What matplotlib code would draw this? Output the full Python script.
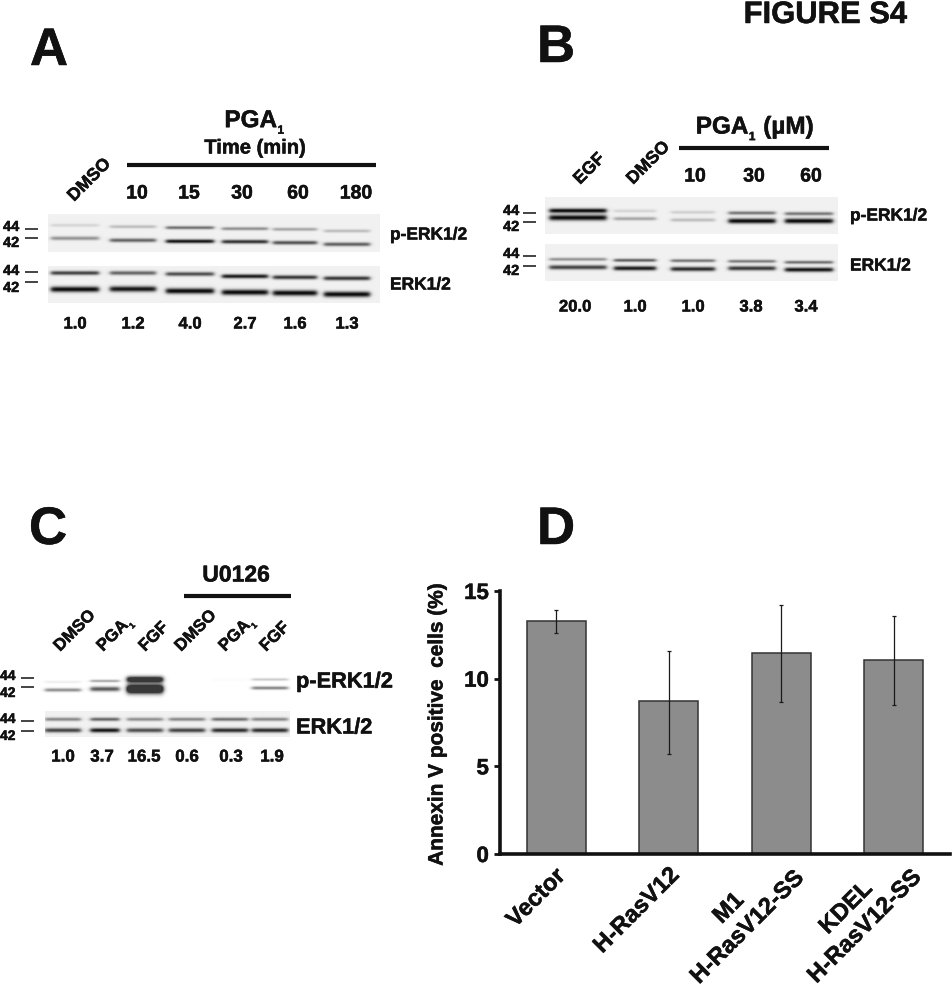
import numpy as np
import matplotlib
matplotlib.use("Agg")
import matplotlib.pyplot as plt
import matplotlib.patheffects as pe
from matplotlib.transforms import ScaledTranslation

plt.rcParams['font.family'] = ['Liberation Sans', 'DejaVu Sans']
plt.rcParams['font.weight'] = 'bold'
plt.rcParams['mathtext.fontset'] = 'custom'
plt.rcParams['mathtext.rm'] = 'Liberation Sans'
plt.rcParams['mathtext.default'] = 'rm'

PGA = r'PGA$_{_{1}}$'

# Panel D
categories = ['Vector', 'H-RasV12', 'M1\nH-RasV12-SS', 'KDEL\nH-RasV12-SS']
annexin_mean = [13.3, 8.7, 11.45, 11.05]
annexin_low = [12.6, 5.7, 8.65, 8.5]
annexin_high = [13.9, 11.6, 14.2, 13.6]
annexin_ticks = [0, 5, 10, 15]

# Panel A
a_lanes = ['DMSO', '10', '15', '30', '60', '180']
a_ratio = ['1.0', '1.2', '4.0', '2.7', '1.6', '1.3']
a_p44 = [0.12, 0.22, 0.55, 0.42, 0.32, 0.22]
a_p42 = [0.40, 0.60, 0.95, 0.82, 0.68, 0.62]
a_t44 = [0.75, 0.60, 0.70, 0.92, 0.80, 0.80]
a_t42 = [1.00, 0.95, 1.00, 1.00, 1.00, 1.00]

# Panel B
b_lanes = ['EGF', 'DMSO', '10', '30', '60']
b_ratio = ['20.0', '1.0', '1.0', '3.8', '3.4']
b_p44 = [1.00, 0.12, 0.14, 0.52, 0.52]
b_p42 = [1.00, 0.32, 0.22, 1.00, 1.00]
b_t44 = [0.40, 0.62, 0.52, 0.50, 0.55]
b_t42 = [0.75, 0.92, 0.85, 0.80, 0.95]

# Panel C
c_lanes = ['DMSO', PGA, 'FGF', 'DMSO', PGA, 'FGF']
c_ratio = ['1.0', '3.7', '16.5', '0.6', '0.3', '1.9']
c_p44 = [0.08, 0.42, 1.40, 0.00, 0.02, 0.25]
c_p42 = [0.55, 0.82, 1.80, 0.00, 0.00, 0.60]
c_t44 = [0.45, 0.60, 0.42, 0.45, 0.55, 0.45]
c_t42 = [0.75, 0.95, 0.70, 0.75, 0.85, 0.85]

fig = plt.figure(figsize=(9.52, 9.88), dpi=100)
ov = fig.add_axes([0, 0, 1, 1])
ov.set_xlim(0, 952)
ov.set_ylim(988, 0)
ov.axis('off')

heavy = [pe.withStroke(linewidth=0.35, foreground='#111111')]


def blot(x0, x1, y0, y1, centers, widths, ys, amps, sigmas, bg=0.945, floor=0.05):
    """Paint a grey blot strip: one row of bands per entry of ys/amps."""
    xx, yy = np.meshgrid(np.arange(x0, x1) + .5, np.arange(y0, y1) + .5)
    img = np.full(xx.shape, 0.0)
    for row_y, row_a, row_s in zip(ys, amps, sigmas):
        for c, w, by, a, s in zip(centers, widths, row_y, row_a, row_s):
            win = 0.5 * (np.tanh((xx - c + w / 2) / 2.5) - np.tanh((xx - c - w / 2) / 2.5))
            img += a * win * np.exp(-0.5 * ((yy - by) / s) ** 2)
    img = np.clip(bg - img * (bg - floor), floor, 1)
    ov.imshow(img, extent=(x0, x1, y1, y0), cmap='gray', vmin=0, vmax=1,
              interpolation='bilinear', aspect='auto', zorder=1)


def txt(x, y, s, size, **kw):
    kw.setdefault('ha', 'center')
    kw.setdefault('va', 'center')
    ov.text(x, y, s, fontsize=size, fontweight='bold', color='#111111', zorder=3,
            path_effects=heavy, **kw)


def rot(x, y, s, size):
    ov.text(x, y, s, fontsize=size, fontweight='bold', color='#111111', rotation=45,
            rotation_mode='anchor', ha='left', va='baseline', zorder=3, path_effects=heavy)


def rule(x0, x1, y, lw=3.0):
    ov.plot([x0, x1], [y, y], color='#111111', lw=lw, solid_capstyle='butt', zorder=3)


def marks(x0, x1, ys):
    for y in ys:
        ov.plot([x0, x1], [y, y], color='#111111', lw=1.1, solid_capstyle='butt', zorder=3)


# Titles and panel letters
txt(825.5, 23, 'FIGURE S4', 22.3, va='baseline')
for x, y, s in [(49, 51, 'A'), (556, 48, 'B'), (48, 530, 'C'), (556, 530, 'D')]:
    txt(x, y, s, 38)

# ---- Panel A
ca = [75, 133, 190, 245, 295, 347]
wa = [48, 46, 48, 46, 44, 46]
blot(48, 380, 214, 252, ca, wa,
     [[225.3, 226.7, 227.7, 228.7, 229.3, 231], [238.3, 240.3, 241.3, 241.7, 242.7, 244.3]],
     [a_p44, a_p42], [[1.2] * 6, [1.4] * 6])
blot(48, 380, 266, 303, ca, wa,
     [[273, 273, 274, 276.3, 277.3, 278.3], [289.3, 289, 291, 292.3, 293, 294.3]],
     [a_t44, a_t42], [[1.5] * 6, [2.0] * 6])
txt(255, 122, PGA, 17.5)
txt(255, 148, 'Time (min)', 14.5)
rule(127, 376, 165)
rot(74, 202, a_lanes[0], 12.7)
for c, s in zip([137, 189, 242, 298, 356], a_lanes[1:]):
    txt(c, 194, s, 14)
for c, s in zip(ca, a_ratio):
    txt(c, 324, s, 12)
txt(3, 227, '44', 10.5, ha='left'); txt(3, 243, '42', 10.5, ha='left')
txt(3, 271, '44', 10.5, ha='left'); txt(3, 288, '42', 10.5, ha='left')
marks(25, 38, [229, 238, 272, 282])
txt(390, 235, 'p-ERK1/2', 12.5, ha='left')
txt(390, 285, 'ERK1/2', 12.5, ha='left')

# ---- Panel B
cb = [578, 635, 693, 752, 809]
wb = [57, 42, 44, 47, 48]
blot(545, 838, 197, 234, cb, wb,
     [[210.7, 211, 212.3, 213, 213.7], [217.7, 218.7, 220, 221, 221]],
     [b_p44, b_p42], [[1.6, 1.2, 1.2, 1.3, 1.3], [2.0, 1.3, 1.3, 1.8, 1.8]])
blot(545, 838, 244, 281, cb, wb,
     [[259.3, 260.3, 260.7, 261.3, 262.3], [267.3, 268.3, 269, 268.3, 269.7]],
     [b_t44, b_t42], [[1.2] * 5, [1.6] * 5])
txt(755, 128, PGA + ' (µM)', 17.5)
rule(679, 829, 148)
rot(580, 185, b_lanes[0], 12.7)
rot(633, 185, b_lanes[1], 12.7)
for c, s in zip([695, 754, 811], b_lanes[2:]):
    txt(c, 177, s, 14)
for c, s in zip([575, 635, 693, 751, 806], b_ratio):
    txt(c, 307, s, 12)
txt(503, 211, '44', 10.5, ha='left'); txt(503, 227, '42', 10.5, ha='left')
txt(503, 254, '44', 10.5, ha='left'); txt(503, 271, '42', 10.5, ha='left')
marks(523, 536, [213, 222, 256, 266])
txt(850, 216, 'p-ERK1/2', 12.5, ha='left')
txt(850, 266, 'ERK1/2', 12.5, ha='left')

# ---- Panel C
cc = [63, 105, 145, 187, 230, 270]
wc = [36, 29, 36, 36, 36, 36]
blot(40, 292, 670, 700, cc, wc,
     [[682, 681, 679.5, 680, 680, 679.5], [690, 689, 689, 689, 689, 688]],
     [c_p44, c_p42], [[1.0, 1.0, 2.2, 1, 1, 1.0], [1.3, 1.7, 3.2, 1, 1, 1.2]],
     bg=1.0, floor=0.22)
blot(45, 290, 711, 737, cc, wc,
     [[719.3] * 6, [730.3] * 6],
     [c_t44, c_t42], [[1.3] * 6, [1.6] * 6])
txt(236, 575, 'U0126', 16.5)
rule(184, 291, 596)
for x, s in zip([60, 103, 145, 181, 225, 266], c_lanes):
    rot(x, 652, s, 12.2)
for x, s in zip([63, 102, 144, 187, 231, 272], c_ratio):
    txt(x, 757, s, 12.2)
txt(0, 676, '44', 10, ha='left'); txt(0, 693, '42', 10, ha='left')
txt(0, 719, '44', 10, ha='left'); txt(0, 736, '42', 10, ha='left')
marks(21, 34, [678, 687, 721, 731])
txt(296, 682, 'p-ERK1/2', 15.7, ha='left')
txt(296, 728, 'ERK1/2', 15.7, ha='left')

# ---- Panel D
ax = fig.add_axes([500 / 952, 1 - 854 / 988, 450 / 952, 263 / 988])
ax.patch.set_alpha(0)
pos = np.arange(len(categories))
ax.bar(pos, annexin_mean, width=0.525, color='#8c8c8c', edgecolor='#333333', linewidth=1.1, zorder=2)
err = [np.array(annexin_mean) - np.array(annexin_low), np.array(annexin_high) - np.array(annexin_mean)]
ax.errorbar(pos, annexin_mean, yerr=err, fmt='none', ecolor='#1a1a1a', elinewidth=0.9,
            capsize=1.6, capthick=0.9, zorder=3)
ax.set_xlim(-0.5, 3.5)
ax.set_ylim(0, 15)
ax.set_yticks(annexin_ticks)
ax.tick_params(axis='y', length=4, width=2, labelsize=16, pad=4, color='#111111', labelcolor='#111111')
ax.set_xticks(pos)
ax.set_xticklabels(categories, rotation=45, ha='right', rotation_mode='anchor',
                   multialignment='center', fontsize=17, color='#111111')
ax.tick_params(axis='x', length=0, pad=7.5)
for s in ['top', 'right']:
    ax.spines[s].set_visible(False)
for s in ['left', 'bottom']:
    ax.spines[s].set_linewidth(2.6)
    ax.spines[s].set_color('#111111')
label_shift_pt = [(-2, 0), (-0.7, 1), (-5.5, 12.5), (-2, 13)]
for lab, (dx, dy) in zip(ax.get_xticklabels(), label_shift_pt):
    lab.set_fontweight('bold')
    lab.set_path_effects(heavy)
    lab.set_transform(lab.get_transform() + ScaledTranslation(dx / 72, dy / 72, fig.dpi_scale_trans))
for lab in ax.get_yticklabels():
    lab.set_fontweight('bold')
    lab.set_path_effects(heavy)
txt(437, 724, 'Annexin V positive  cells (%)', 15, rotation=90)

fig.savefig('out.png', dpi=100)
